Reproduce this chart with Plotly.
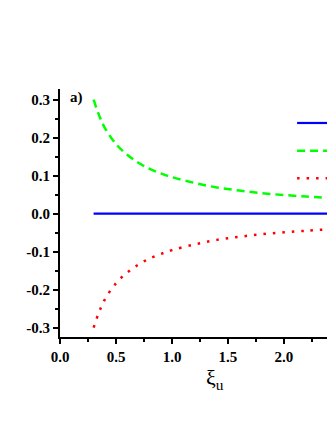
import plotly.graph_objects as go

# readings
xi_u = [0.3, 0.35, 0.4, 0.5, 0.6, 0.7, 0.8, 0.9, 1.0, 1.2, 1.4, 1.6, 1.8, 2.0, 2.2, 2.4]
upper = [0.300, 0.258, 0.226, 0.183, 0.155, 0.134, 0.118, 0.106, 0.096, 0.081, 0.069, 0.061, 0.054, 0.049, 0.045, 0.041]
lower = [-0.300, -0.258, -0.226, -0.183, -0.155, -0.134, -0.118, -0.106, -0.096, -0.081, -0.069, -0.061, -0.054, -0.049, -0.045, -0.041]
middle = [0.0] * len(xi_u)

y_ticks = [-0.3, -0.2, -0.1, 0.0, 0.1, 0.2, 0.3]
x_ticks = [0.0, 0.5, 1.0, 1.5, 2.0]

blue = dict(color='#0000ff', width=2.2)
green = dict(color='#00ff00', width=2.5, dash='8px,5px')
red = dict(color='#ff0000', width=2.5, dash='2.5px,7px')

fig = go.Figure()
fig.add_trace(go.Scatter(x=xi_u, y=middle, mode='lines', line=blue))
fig.add_trace(go.Scatter(x=xi_u, y=upper, mode='lines', line_shape='spline', line=green))
fig.add_trace(go.Scatter(x=xi_u, y=lower, mode='lines', line_shape='spline', line=red))

# legend samples, their labels are cut off at the right edge in the original
for yy, st in [(0.863, blue), (0.751, green), (0.640, red)]:
    fig.add_shape(type='line', xref='paper', yref='paper', x0=0.888, x1=1.0, y0=yy, y1=yy,
                  line=st)

axis_font = dict(family='Liberation Serif', size=15, color='black', weight='bold')

fig.update_layout(
    width=327, height=423,
    paper_bgcolor='white', plot_bgcolor='white',
    margin=dict(l=60, r=0, t=89, b=86),
    showlegend=False,
    xaxis=dict(range=[0, 2.384], tickvals=x_ticks, ticktext=['%.1f' % v for v in x_ticks],
               showline=True, linecolor='black', linewidth=2, showgrid=False, zeroline=False,
               ticks='outside', ticklen=5, tickwidth=1.5, tickcolor='black',
               minor=dict(dtick=0.25, tick0=0, ticks='outside', ticklen=3, tickwidth=1.5, tickcolor='black'),
               tickfont=axis_font),
    yaxis=dict(range=[-0.3245, 0.328], tickvals=y_ticks, ticktext=['%.1f' % v for v in y_ticks],
               showline=True, linecolor='black', linewidth=2, showgrid=False, zeroline=False,
               ticks='outside', ticklen=5, tickwidth=1.5, tickcolor='black',
               minor=dict(dtick=0.05, tick0=0, ticks='outside', ticklen=3, tickwidth=1.5, tickcolor='black'),
               tickfont=axis_font),
    annotations=[
        dict(text='a)', x=0.03, y=1.01, xref='paper', yref='paper',
             xanchor='left', yanchor='top', showarrow=False,
             font=dict(family='Liberation Serif', size=15, color='black', weight='bold')),
        # x title sits right of centre because the original plot is cropped
        dict(text='ξ<sub>u</sub>', x=0.58, y=-0.105, xref='paper', yref='paper',
             xanchor='center', yanchor='top', showarrow=False,
             font=dict(family='Liberation Serif', size=22, color='black')),
    ],
)

# page body margin off so the figure sits at the window corner
fig.write_html("out.html", config={'displayModeBar': False},
               post_script="document.body.style.margin='0';")
